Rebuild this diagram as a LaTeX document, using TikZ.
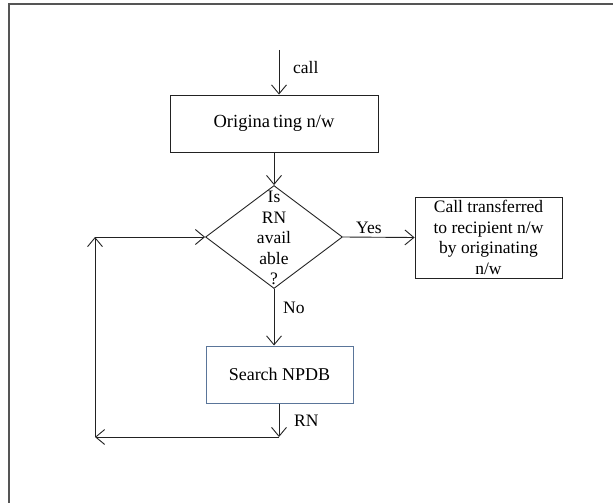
\documentclass[tikz,border=0pt]{standalone}
\usepackage{fontspec}
\setmainfont{Liberation Serif}
\usetikzlibrary{arrows.meta,shapes.geometric}
\definecolor{lineclr}{HTML}{222222}
\definecolor{frameclr}{HTML}{555555}
\definecolor{blueclr}{HTML}{5A7599}
\begin{document}
\begin{tikzpicture}[x=1pt,y=-1pt,
  font=\fontsize{17.5}{20.5}\selectfont,
  arr/.style={draw=lineclr,line width=0.9pt,-{Straight Barb[length=9pt,width=15pt,line width=0.9pt]}},
  ln/.style={draw=lineclr,line width=0.9pt},
  boxa/.style={draw=lineclr,line width=0.9pt,rectangle,inner sep=0pt},
  lbl/.style={inner sep=0pt,anchor=west}]
\useasboundingbox (0,0) rectangle (613,503);
\draw[frameclr,line width=1.6pt] (9,503) -- (9,4) -- (613,4);
% nodes
\node[boxa,minimum width=208pt,minimum height=57pt,font=\fontsize{18.5}{21}\selectfont] (orig) at (274,123.5) {Origina\,ting n/w};
\node[draw=lineclr,line width=0.9pt,diamond,minimum width=137pt,minimum height=103pt,inner sep=0pt,aspect=1.33] (dia) at (274,237) {};
\node[align=center,inner sep=0pt] (diatext) at (274,238) {Is\\RN\\avail\\able\\?};
\node[boxa,minimum width=147pt,minimum height=81pt,align=center] (xfer) at (488.5,237.5) {Call transferred\\to recipient n/w\\by originating\\n/w};
\node[draw=blueclr,line width=1pt,rectangle,inner sep=0pt,minimum width=147pt,minimum height=57pt,font=\fontsize{18}{21}\selectfont] (search) at (279.5,374.5) {Search NPDB};
% coordinates
\coordinate (callstart) at (279,50);
\coordinate (rnpt) at (279,437);
\coordinate (leftbot) at (95,437);
\coordinate (lefttop) at (95,237);
% connectors
\draw[arr] (callstart) -- (callstart |- orig.north);
\draw[arr] (orig.south) -- (dia.north);
\draw[arr] (dia.east) -- (xfer.west);
\draw[arr] (dia.south) -- (dia.south |- search.north);
\draw[arr] (search.south -| rnpt) -- (rnpt);
\draw[arr] (rnpt) -- (leftbot);
\draw[arr] (leftbot) -- (lefttop);
\draw[arr] (lefttop) -- (dia.west);
% labels
\node[lbl] (lcall) at (293,68) {call};
\node[lbl] (lyes) at (356,228) {Yes};
\node[lbl] (lno) at (283,308) {No};
\node[lbl] (lrn) at (294,421) {RN};
\end{tikzpicture}
\end{document}
